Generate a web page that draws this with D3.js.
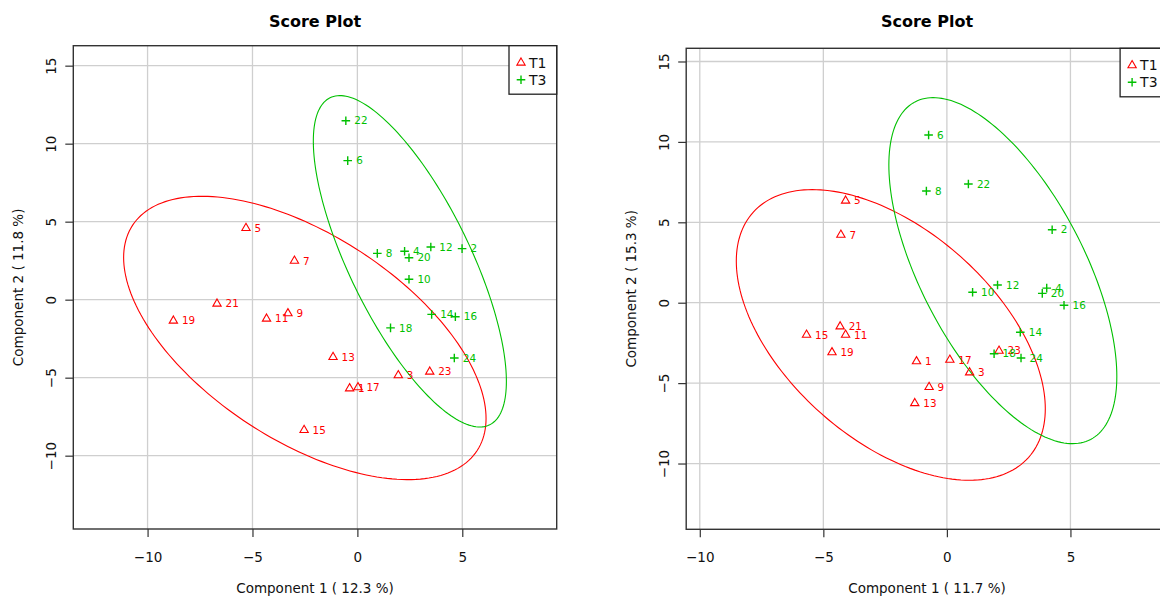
<!DOCTYPE html>
<html>
<head>
<meta charset="utf-8">
<script src="https://cdn.jsdelivr.net/npm/d3@7"></script>
<style>
  html, body { margin: 0; padding: 0; background: #fff; }
  svg { display: block; font-family: "DejaVu Sans", sans-serif; }
</style>
</head>
<body>
<svg id="chart" width="1160" height="598"></svg>
<script>
// ---- Scores, left panel (components 1 and 2: 12.3 % / 11.8 %) ----
const leftT1Ids = [1, 3, 5, 7, 9, 11, 13, 15, 17, 19, 21, 23];
const leftT1X   = [-0.37, 1.95, -5.31, -3.00, -3.31, -4.33, -1.16, -2.54, 0.03, -8.77, -6.69, 3.45];
const leftT1Y   = [-5.69, -4.85, 4.59, 2.49, -0.88, -1.22, -3.68, -8.36, -5.62, -1.35, -0.26, -4.62];
const leftT3Ids = [2, 4, 6, 8, 10, 12, 14, 16, 18, 20, 22, 24];
const leftT3X   = [4.99, 2.25, -0.46, 0.95, 2.46, 3.50, 3.54, 4.67, 1.58, 2.46, -0.55, 4.62];
const leftT3Y   = [3.27, 3.10, 8.91, 2.97, 1.31, 3.38, -0.94, -1.09, -1.81, 2.69, 11.47, -3.74];

// ---- Scores, right panel (components 1 and 2: 11.7 % / 15.3 %) ----
const rightT1Ids = [1, 3, 5, 7, 9, 11, 13, 15, 17, 19, 21, 23];
const rightT1X   = [-1.23, 0.92, -4.10, -4.29, -0.72, -4.10, -1.30, -5.68, 0.12, -4.65, -4.32, 2.11];
const rightT1Y   = [-3.65, -4.34, 6.34, 4.22, -5.25, -2.00, -6.25, -2.00, -3.55, -3.09, -1.48, -2.99];
const rightT3Ids = [2, 4, 6, 8, 10, 12, 14, 16, 18, 20, 22, 24];
const rightT3X   = [4.26, 4.04, -0.74, -0.83, 1.04, 2.05, 2.97, 4.74, 1.91, 3.86, 0.87, 3.00];
const rightT3Y   = [4.54, 0.91, 10.43, 6.95, 0.65, 1.10, -1.84, -0.16, -3.17, 0.58, 7.38, -3.44];

const groupNames  = ["T1", "T3"];
const groupColors = ["#FF0000", "#00C000"];
const xTicks = [-10, -5, 0, 5];
const yTicks = [-10, -5, 0, 5, 10, 15];
const titleText = "Score Plot";
const xLabels = ["Component 1 ( 12.3 %)", "Component 1 ( 11.7 %)"];
const yLabels = ["Component 2 ( 11.8 %)", "Component 2 ( 15.3 %)"];

// 95 % confidence level for the group ellipses (chi-square, 2 df)
const chi2_95 = 5.991465;

const svg = d3.select("#chart");

function zip(ids, xs, ys) {
  return ids.map((id, i) => ({ id, x: xs[i], y: ys[i] }));
}

// Ellipse outline from a group's mean and covariance
function ellipsePoints(pts, n = 200) {
  const m = pts.length;
  const mx = d3.mean(pts, d => d.x), my = d3.mean(pts, d => d.y);
  let sxx = 0, syy = 0, sxy = 0;
  pts.forEach(d => {
    sxx += (d.x - mx) ** 2;
    syy += (d.y - my) ** 2;
    sxy += (d.x - mx) * (d.y - my);
  });
  sxx /= (m - 1); syy /= (m - 1); sxy /= (m - 1);
  const a = Math.sqrt(sxx), b = sxy / a, c = Math.sqrt(syy - b * b);
  const k = Math.sqrt(chi2_95);
  return d3.range(n + 1).map(i => {
    const t = 2 * Math.PI * i / n;
    return [mx + k * a * Math.cos(t), my + k * (b * Math.cos(t) + c * Math.sin(t))];
  });
}

const triPath = "M0,-4.8L4.15,2.4L-4.15,2.4Z";
const plusPath = "M-4.3,0H4.3M0,-4.3V4.3";

function drawPanel(cfg) {
  const x = d3.scaleLinear().domain(cfg.xDomain).range([cfg.left, cfg.right]);
  const y = d3.scaleLinear().domain(cfg.yDomain).range([cfg.bottom, cfg.top]);
  const g = svg.append("g");
  const midX = (cfg.left + cfg.right) / 2;
  const midY = (cfg.top + cfg.bottom) / 2;

  const clipId = "clip" + cfg.key;
  svg.append("clipPath").attr("id", clipId)
    .append("rect").attr("x", cfg.left).attr("y", cfg.top)
    .attr("width", cfg.right - cfg.left).attr("height", cfg.bottom - cfg.top);

  // grid
  const grid = g.append("g").attr("stroke", "#cfcfcf").attr("stroke-width", 1.3);
  grid.selectAll("line.v").data(xTicks).join("line")
    .attr("x1", d => x(d)).attr("x2", d => x(d))
    .attr("y1", cfg.top).attr("y2", cfg.bottom);
  grid.selectAll("line.h").data(yTicks).join("line")
    .attr("y1", d => y(d)).attr("y2", d => y(d))
    .attr("x1", cfg.left).attr("x2", cfg.right);

  // axes
  const xa = g.append("g").attr("transform", `translate(0,${cfg.bottom})`)
    .call(d3.axisBottom(x).tickValues(xTicks).tickSize(8).tickFormat(d3.format("d")));
  xa.select(".domain").remove();
  xa.selectAll("line").attr("stroke", "#333").attr("stroke-width", 1.2);
  xa.selectAll("text").attr("y", 0).attr("dy", 0)
    .attr("transform", "translate(0,32.7)")
    .attr("font-size", 13.5).attr("fill", "#111")
    .attr("font-family", "DejaVu Sans");

  const ya = g.append("g").attr("transform", `translate(${cfg.left},0)`)
    .call(d3.axisLeft(y).tickValues(yTicks).tickSize(8).tickFormat(d3.format("d")));
  ya.select(".domain").remove();
  ya.selectAll("line").attr("stroke", "#333").attr("stroke-width", 1.2);
  ya.selectAll("text").attr("x", 0).attr("dy", 0)
    .attr("text-anchor", "middle")
    .attr("transform", "translate(-17,0) rotate(-90)")
    .attr("font-size", 13.5).attr("fill", "#111")
    .attr("font-family", "DejaVu Sans");

  // ellipses
  const line = d3.line().x(d => x(d[0])).y(d => y(d[1]));
  const ell = g.append("g").attr("clip-path", `url(#${clipId})`);
  cfg.groups.forEach((pts, gi) => {
    ell.append("path").attr("d", line(ellipsePoints(pts)))
      .attr("fill", "none").attr("stroke", groupColors[gi]).attr("stroke-width", 1.1);
  });

  // points and sample labels
  cfg.groups.forEach((pts, gi) => {
    const col = groupColors[gi];
    const pg = g.append("g");
    pg.selectAll("path").data(pts).join("path")
      .attr("transform", d => `translate(${x(d.x)},${y(d.y)})`)
      .attr("d", gi === 0 ? triPath : plusPath)
      .attr("fill", "none").attr("stroke", col)
      .attr("stroke-width", gi === 0 ? 1.1 : 1.4);
    pg.selectAll("text").data(pts).join("text")
      .attr("x", d => x(d.x) + 8.5).attr("y", d => y(d.y) + 3.7)
      .attr("font-size", 10.4).attr("fill", col)
      .text(d => d.id);
  });

  // box
  g.append("rect").attr("x", cfg.left).attr("y", cfg.top)
    .attr("width", cfg.right - cfg.left).attr("height", cfg.bottom - cfg.top)
    .attr("fill", "none").attr("stroke", "#333").attr("stroke-width", 1.4);

  // legend
  const lw = 47.7, lh = 48.5;
  const lx = cfg.right - lw, ly = cfg.top;
  const lg = g.append("g");
  lg.append("rect").attr("x", lx).attr("y", ly).attr("width", lw).attr("height", lh)
    .attr("fill", "#fff").attr("stroke", "#222").attr("stroke-width", 1.3);
  groupNames.forEach((name, i) => {
    const cy = ly + 17 + i * 17;
    lg.append("path").attr("transform", `translate(${lx + 12},${cy})`)
      .attr("d", i === 0 ? triPath : plusPath)
      .attr("fill", "none").attr("stroke", groupColors[i])
      .attr("stroke-width", i === 0 ? 1.1 : 1.4);
    lg.append("text").attr("x", lx + 20).attr("y", cy + 5)
      .attr("font-size", 14).attr("fill", "#111").text(name);
  });

  // titles
  g.append("text").attr("x", midX).attr("y", 27).attr("text-anchor", "middle")
    .attr("font-size", 16).attr("font-weight", "bold").attr("fill", "#000")
    .text(titleText);
  g.append("text").attr("x", midX).attr("y", 593).attr("text-anchor", "middle")
    .attr("font-size", 13.5).attr("fill", "#111").text(cfg.xLabel);
  g.append("text").attr("transform", `translate(${cfg.left - 50},${midY}) rotate(-90)`)
    .attr("text-anchor", "middle")
    .attr("font-size", 13.5).attr("fill", "#111").text(cfg.yLabel);
}

drawPanel({
  key: "L",
  left: 73.3, right: 556.7, top: 45.7, bottom: 529,
  xDomain: [-13.54, 9.50], yDomain: [-14.70, 16.28],
  groups: [zip(leftT1Ids, leftT1X, leftT1Y), zip(leftT3Ids, leftT3X, leftT3Y)],
  xLabel: xLabels[0], yLabel: yLabels[0]
});

drawPanel({
  key: "R",
  left: 686.2, right: 1167.8, top: 48.3, bottom: 529.3,
  xDomain: [-10.55, 8.94], yDomain: [-14.09, 15.82],
  groups: [zip(rightT1Ids, rightT1X, rightT1Y), zip(rightT3Ids, rightT3X, rightT3Y)],
  xLabel: xLabels[1], yLabel: yLabels[1]
});
</script>
</body>
</html>
